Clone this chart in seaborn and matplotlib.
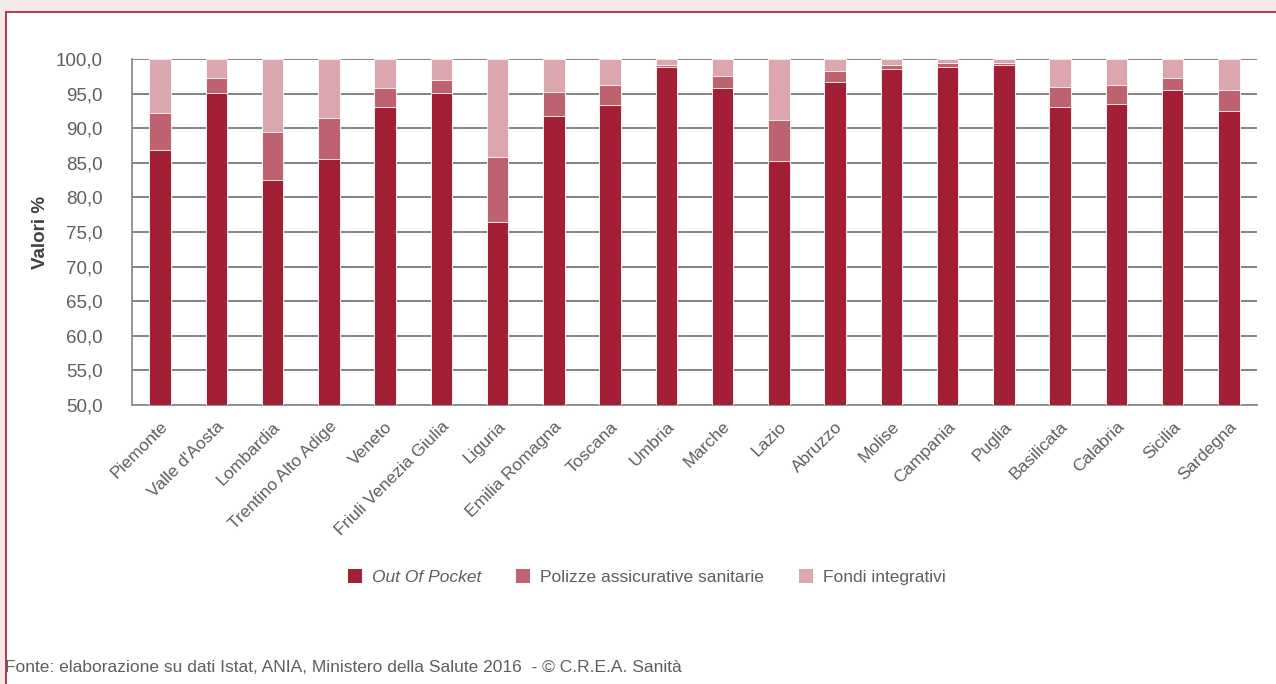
import matplotlib
matplotlib.use("Agg")
import matplotlib.pyplot as plt
import seaborn as sns
import pandas as pd
from matplotlib.patches import Rectangle, Patch
from matplotlib import font_manager
from matplotlib.ticker import FuncFormatter

regions = ["Piemonte", "Valle d'Aosta", "Lombardia", "Trentino Alto Adige", "Veneto",
           "Friuli Venezia Giulia", "Liguria", "Emilia Romagna", "Toscana", "Umbria",
           "Marche", "Lazio", "Abruzzo", "Molise", "Campania", "Puglia", "Basilicata",
           "Calabria", "Sicilia", "Sardegna"]
out_of_pocket = [86.8, 95.1, 82.5, 85.6, 93.1, 95.1, 76.5, 91.8, 93.4, 98.8,
                 95.8, 85.2, 96.7, 98.5, 98.8, 99.2, 93.1, 93.5, 95.5, 92.5]
polizze = [5.4, 2.2, 7.0, 5.9, 2.7, 1.9, 9.4, 3.4, 2.8, 0.3,
           1.8, 6.0, 1.5, 0.6, 0.6, 0.2, 2.8, 2.7, 1.8, 3.0]
fondi = [round(100 - o - p, 1) for o, p in zip(out_of_pocket, polizze)]
series_names = ["Out Of Pocket", "Polizze assicurative sanitarie", "Fondi integrativi"]
y_ticks = [50, 55, 60, 65, 70, 75, 80, 85, 90, 95, 100]

c_oop = "#a31f36"
c_pol = "#bf6270"
c_fon = "#dba6ae"
txt = "#5e5e5e"

sns.set_theme(style="white")
avail = {f.name for f in font_manager.fontManager.ttflist}
fam = "Liberation Sans Narrow" if "Liberation Sans Narrow" in avail else "Liberation Sans"
plt.rcParams["font.family"] = [fam, "DejaVu Sans"]

df = pd.DataFrame({"region": regions, "oop": out_of_pocket, "pol": polizze, "fon": fondi})
df["lvl2"] = df["oop"] + df["pol"]
df["lvl3"] = df["lvl2"] + df["fon"]

fig = plt.figure(figsize=(12.76, 6.84), dpi=100)
fig.patch.set_facecolor("#f5e8eb")
fig.add_artist(Rectangle((6 / 1276, -0.01), 1.1, 1 - 12 / 684 + 0.01, transform=fig.transFigure,
                         facecolor="white", edgecolor="#b8283f", lw=1.3, zorder=0))

ax = fig.add_axes([132 / 1276, 1 - 405 / 684, (1257 - 132) / 1276, (405 - 59) / 684])
ax.set_facecolor("none")
ax.set_axisbelow(True)
w = 0.38
sns.barplot(data=df, x="region", y="lvl3", color=c_fon, width=w, ax=ax, saturation=1,
            edgecolor="white", linewidth=0.6, zorder=2)
sns.barplot(data=df, x="region", y="lvl2", color=c_pol, width=w, ax=ax, saturation=1,
            edgecolor="white", linewidth=0.6, zorder=3)
sns.barplot(data=df, x="region", y="oop", color=c_oop, width=w, ax=ax, saturation=1,
            edgecolor="white", linewidth=0.6, zorder=4)

ax.set_ylim(50, 100)
ax.set_yticks(y_ticks)
ax.yaxis.set_major_formatter(FuncFormatter(lambda v, p: f"{v:.1f}".replace(".", ",")))
ax.grid(axis="y", color="#7a7a7a", lw=1.3)
ax.grid(axis="x", visible=False)
for s in ["top", "right"]:
    ax.spines[s].set_visible(False)
for s in ["left", "bottom"]:
    ax.spines[s].set_color("#8c8c8c")
    ax.spines[s].set_linewidth(1.3)
ax.tick_params(axis="y", labelsize=13.5, labelcolor=txt, length=0, pad=21)
ax.tick_params(axis="x", labelsize=12.5, labelcolor=txt, length=0, pad=10)
plt.setp(ax.get_xticklabels(), rotation=45, ha="right", rotation_mode="anchor")
ax.set_xlabel("")
ax.set_ylabel("Valori %", fontsize=13.5, fontweight="bold", color="#404040",
              family=["Liberation Sans", "DejaVu Sans"], labelpad=5)
ax.set_xlim(-0.5, len(regions) - 0.5)

handles = [Patch(facecolor=c, edgecolor="none") for c in [c_oop, c_pol, c_fon]]
leg = fig.legend(handles, series_names, loc="center", bbox_to_anchor=(0.507, 0.156), ncol=3,
                 frameon=False, fontsize=12.5, handlelength=0.8, handleheight=0.8,
                 columnspacing=2.0, handletextpad=0.6)
for t in leg.get_texts():
    t.set_color(txt)
leg.get_texts()[0].set_style("italic")

fig.text(5 / 1276, 1 - 668 / 684, "Fonte: elaborazione su dati Istat, ANIA, Ministero della Salute 2016  - © C.R.E.A. Sanità",
         fontsize=12.5, color=txt, va="center", ha="left")

fig.savefig("out.png", dpi=100, facecolor=fig.get_facecolor())
